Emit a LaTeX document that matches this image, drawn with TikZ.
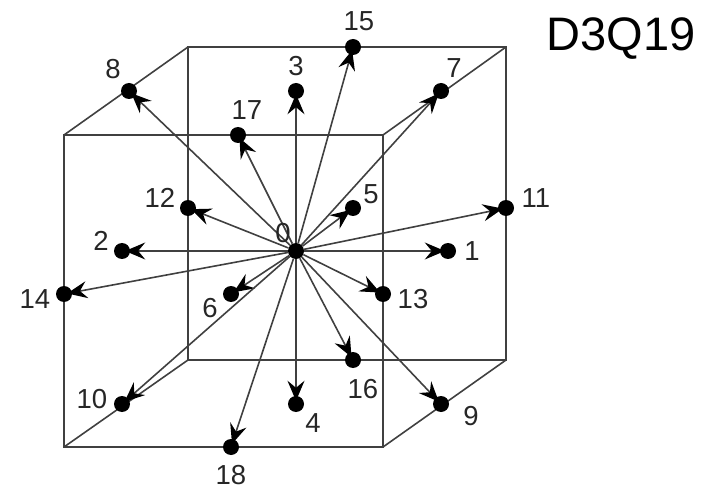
\documentclass[tikz,border=0pt]{standalone}
\usepackage{fontspec}
\setmainfont{Liberation Sans}
\usetikzlibrary{arrows.meta}
\tikzset{
  px/.style={x=1pt,y=-1pt},
  dotn/.style={circle,fill=black,inner sep=0pt,minimum size=16pt},
  edgeline/.style={line width=1.6pt,draw=black!75},
  vec/.style={line width=1.6pt,draw=black!75,-{Stealth[length=20pt,width=17pt,inset=7pt,black]},shorten >=-5pt},
  lab/.style={font=\fontsize{27.5}{27.5}\selectfont,text=black!85,inner sep=0pt}
}
\begin{document}
\begin{tikzpicture}[px]
\useasboundingbox (0,0) rectangle (707,489);
% cube corners
\coordinate (fa) at (64,135); \coordinate (fb) at (383,135);
\coordinate (fc) at (383,447); \coordinate (fd) at (64,447);
\coordinate (ba) at (188,47); \coordinate (bb) at (506,47);
\coordinate (bc) at (506,360); \coordinate (bd) at (188,360);
\draw[edgeline,line join=miter] (fa) -- (fb) -- (fc) -- (fd) -- cycle;
\draw[edgeline] (ba) -- (bb) -- (bc) -- (bd) -- cycle;
\draw[edgeline] (fa) -- (ba) (fb) -- (bb) (fc) -- (bc) (fd) -- (bd);
% dots
\node[dotn] (n0) at (296,251) {};
\foreach \i/\x/\y in {1/448/251,2/122/251,3/296/91,4/296/404,5/353/208,6/231/294,
  7/441/91,8/129/91,9/441/404,10/122/404,11/506/208,12/188/208,13/383/294,
  14/64/294,15/353/47,16/353/360,17/238/135,18/231/447}{
  \node[dotn] (n\i) at (\x,\y) {};
  \draw[vec] (n0) -- (n\i);
}
% labels
\node[lab] (l0) at (283,233) {0};
\node[lab] (l1) at (472,251) {1};
\node[lab] (l2) at (101,241) {2};
\node[lab] (l3) at (296,66) {3};
\node[lab] (l4) at (313,423) {4};
\node[lab] (l5) at (371,194) {5};
\node[lab] (l6) at (210,308) {6};
\node[lab] (l7) at (454,68) {7};
\node[lab] (l8) at (113,69) {8};
\node[lab] (l9) at (471,416) {9};
\node[lab] (l10) at (92,399) {10};
\node[lab] (l11) at (536,198) {11};
\node[lab] (l12) at (160,198) {12};
\node[lab] (l13) at (413,299) {13};
\node[lab] (l14) at (35,299) {14};
\node[lab] (l15) at (359,21) {15};
\node[lab] (l16) at (363,389) {16};
\node[lab] (l17) at (247,110) {17};
\node[lab] (l18) at (231,475) {18};
\node[lab,font=\fontsize{47}{47}\selectfont,text=black] (title) at (621,39) {D3Q19};
\end{tikzpicture}
\end{document}
